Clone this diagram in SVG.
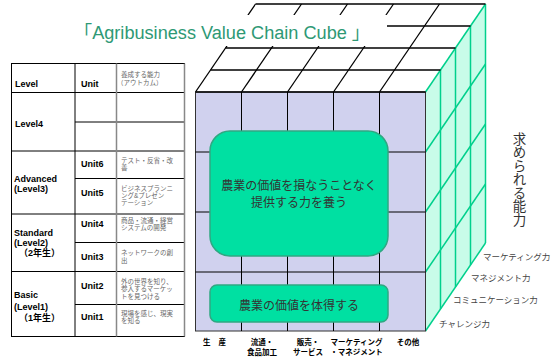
<svg xmlns="http://www.w3.org/2000/svg" width="551" height="358" viewBox="0 0 551 358">
<style>
text{font-family:"Liberation Sans","Noto Sans CJK JP",sans-serif}
.lv{font-size:9px;font-weight:bold;fill:#000}
.oc{font-size:6.5px;fill:#666}
.tb{stroke:#000;stroke-width:1;fill:none}
.tg{stroke:#888;stroke-width:1.5;fill:none}
.blk{stroke:#000;stroke-width:1.3;fill:none}
.grn{stroke:#00d08c;stroke-width:1.5;fill:none}
.box{fill:#00e0a2;stroke:#2fa882;stroke-width:1.5}
.bx{font-size:12px;fill:#333;text-anchor:middle}
.ax{font-size:7.5px;font-weight:bold;fill:#000;text-anchor:middle}
.cap{font-size:8.5px;fill:#444}
</style>
<rect width="551" height="358" fill="#fff"/>
<g id="table">
<rect x="11.5" y="63.5" width="173" height="273" class="tb"/>
<line x1="75" y1="63.5" x2="75" y2="336.5" class="tb"/>
<line x1="11.5" y1="92.5" x2="184.5" y2="92.5" class="tb"/>
<line x1="75" y1="122" x2="184.5" y2="122" class="tb"/>
<line x1="11.5" y1="151" x2="184.5" y2="151" class="tb"/>
<line x1="75" y1="178.5" x2="184.5" y2="178.5" class="tb"/>
<line x1="11.5" y1="214" x2="184.5" y2="214" class="tb"/>
<line x1="75" y1="242.5" x2="184.5" y2="242.5" class="tb"/>
<line x1="11.5" y1="271.5" x2="184.5" y2="271.5" class="tb"/>
<line x1="75" y1="304.5" x2="184.5" y2="304.5" class="tb"/>
<line x1="116.5" y1="63.5" x2="116.5" y2="336.5" class="tg"/>
<line x1="184.5" y1="63.5" x2="184.5" y2="336.5" class="tg"/>
<text x="15" y="86.5" class="lv">Level</text>
<text x="15" y="126.5" class="lv">Level4</text>
<text x="14" y="181.5" class="lv">Advanced</text>
<text x="14" y="191.5" class="lv">(Level3)</text>
<text x="14" y="236" class="lv">Standard</text>
<text x="14" y="245.5" class="lv">(Level2)</text>
<text x="19" y="256" class="lv">（2年生）</text>
<text x="14" y="298" class="lv">Basic</text>
<text x="14" y="309.5" class="lv">(Level1)</text>
<text x="19" y="321" class="lv">（1年生）</text>
<text x="81" y="86.5" class="lv">Unit</text>
<text x="81" y="166.5" class="lv">Unit6</text>
<text x="81" y="196" class="lv">Unit5</text>
<text x="81" y="226.5" class="lv">Unit4</text>
<text x="81" y="260" class="lv">Unit3</text>
<text x="81" y="289" class="lv">Unit2</text>
<text x="81" y="320" class="lv">Unit1</text>
<text x="121" y="77" class="oc">養成する能力</text>
<text x="117" y="85" class="oc">（アウトカム）</text>
<text x="121" y="162.5" class="oc">テスト・反省・改</text>
<text x="121" y="170" class="oc">善</text>
<text x="121" y="190.5" class="oc">ビジネスプランニ</text>
<text x="121" y="197.5" class="oc">ング&amp;プレゼン</text>
<text x="121" y="204.5" class="oc">テーション</text>
<text x="121" y="222.5" class="oc">商品・流通・経営</text>
<text x="121" y="229.5" class="oc">システムの開発</text>
<text x="121" y="255" class="oc">ネットワークの創</text>
<text x="121" y="262.5" class="oc">出</text>
<text x="121" y="283.5" class="oc">外の世界を知り、</text>
<text x="121" y="291" class="oc">参入するマーケッ</text>
<text x="121" y="298.5" class="oc">トを見つける</text>
<text x="121" y="315.5" class="oc">現場を感じ、現実</text>
<text x="121" y="323" class="oc">を知る</text>
</g>
<g id="cube-right">
<polygon points="425.5,92 485.5,4 485.5,243 425.5,331" fill="#c8fce9"/>
<line x1="440.5" y1="70" x2="440.5" y2="309" class="grn"/>
<line x1="455.5" y1="48" x2="455.5" y2="287" class="grn"/>
<line x1="470.5" y1="26" x2="470.5" y2="265" class="grn"/>
<line x1="485.5" y1="4" x2="485.5" y2="243" class="grn"/>
<line x1="425.5" y1="92" x2="485.5" y2="4" class="grn"/>
<line x1="425.5" y1="152" x2="485.5" y2="64" class="grn"/>
<line x1="425.5" y1="212" x2="485.5" y2="124" class="grn"/>
<line x1="425.5" y1="272" x2="485.5" y2="184" class="grn"/>
<line x1="425.5" y1="331" x2="485.5" y2="243" class="grn"/>
</g>
<g id="cube-top">
<line x1="195.5" y1="92" x2="255.5" y2="4" class="blk"/>
<line x1="241.5" y1="92" x2="301.5" y2="4" class="blk"/>
<line x1="287.5" y1="92" x2="347.5" y2="4" class="blk"/>
<line x1="333.5" y1="92" x2="393.5" y2="4" class="blk"/>
<line x1="379.5" y1="92" x2="439.5" y2="4" class="blk"/>
<line x1="210.5" y1="70" x2="440.5" y2="70" class="blk"/>
<line x1="225.5" y1="48" x2="455.5" y2="48" class="blk"/>
<line x1="240.5" y1="26" x2="470.5" y2="26" class="blk"/>
<line x1="255.5" y1="4" x2="485.5" y2="4" class="blk"/>
</g>
<g id="title">
<rect x="50" y="15" width="337" height="31" fill="#fff"/>
<text x="74" y="38.5" font-size="18" fill="#2e9975" textLength="296" lengthAdjust="spacingAndGlyphs">「Agribusiness Value Chain Cube 」</text>
</g>
<g id="cube-front">
<rect x="195.5" y="92" width="230" height="239" fill="#d0d1ee" stroke="#333" stroke-width="1"/>
<line x1="241.5" y1="92" x2="241.5" y2="331" class="tb"/>
<line x1="287.5" y1="92" x2="287.5" y2="331" class="tb"/>
<line x1="333.5" y1="92" x2="333.5" y2="331" class="tb"/>
<line x1="379.5" y1="92" x2="379.5" y2="331" class="tb"/>
<line x1="195.5" y1="152" x2="425.5" y2="152" class="tb"/>
<line x1="195.5" y1="212" x2="425.5" y2="212" class="tb"/>
<line x1="195.5" y1="272" x2="425.5" y2="272" class="tb"/>
<line x1="195.5" y1="92" x2="425.5" y2="92" class="blk"/>
</g>
<g id="box-upper">
<rect x="210" y="131" width="178" height="125" rx="20" class="box"/>
<text x="299" y="190" class="bx">農業の価値を損なうことなく</text>
<text x="299" y="207" class="bx">提供する力を養う</text>
</g>
<g id="box-lower">
<rect x="210" y="285" width="178" height="37" rx="7" class="box"/>
<text x="299" y="309.5" class="bx">農業の価値を体得する</text>
</g>
<g id="axis-labels">
<text x="214.5" y="344.5" class="ax" style="word-spacing:6px">生 産</text>
<text x="262" y="344.5" class="ax">流通・</text>
<text x="262" y="354.5" class="ax">食品加工</text>
<text x="308" y="344.5" class="ax">販売・</text>
<text x="308" y="354.5" class="ax">サービス</text>
<text x="356.5" y="344.5" class="ax">マーケティング</text>
<text x="356.5" y="354.5" class="ax">・マネジメント</text>
<text x="408" y="344.5" class="ax">その他</text>
<text x="483" y="260" class="cap">マーケティング力</text>
<text x="471" y="281" class="cap">マネジメント力</text>
<text x="453" y="303" class="cap">コミュニケーション力</text>
<text x="439" y="327" class="cap">チャレンジ力</text>
<text x="518" y="132" font-size="13.5" fill="#333" style="writing-mode:vertical-rl">求められる能力</text>
</g>
</svg>
